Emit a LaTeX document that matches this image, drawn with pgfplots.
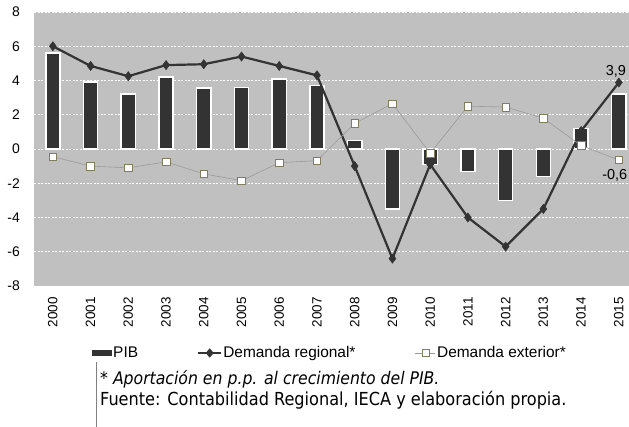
\documentclass[border=0pt]{standalone}
\usepackage{fontspec}
\setmainfont{Liberation Sans}
\newfontfamily\notefont{DejaVu Sans Condensed}
\usepackage{pgfplots}
\pgfplotsset{compat=1.18}
\definecolor{bardark}{HTML}{333333}
\definecolor{bgc}{HTML}{C0C0C0}
\definecolor{extline}{HTML}{9A9A9A}
\definecolor{extmark}{HTML}{7F7F5F}
\begin{document}
\begin{tikzpicture}[x=1bp,y=1bp]
\path[use as bounding box] (0bp,0bp) rectangle (629bp,427bp);
\begin{axis}[
  at={(34bp,141bp)}, anchor=south west,
  scale only axis, width=595bp, height=274bp,
  xmin=-0.5, xmax=15.27, ymin=-8, ymax=8,
  axis background/.style={fill=bgc},
  axis line style={draw=none},
  ytick={-8,-6,-4,-2,0,2,4,6,8},
  xtick={0,1,2,3,4,5,6,7,8,9,10,11,12,13,14,15},
  xticklabels={2000,2001,2002,2003,2004,2005,2006,2007,2008,2009,2010,2011,2012,2013,2014,2015},
  major tick length=0pt,
  /pgf/number format/assume math mode=true,
  ymajorgrids,
  grid style={white, line width=0.7bp, dash pattern=on 2bp off 1.5bp},
  yticklabel style={font=\fontsize{14}{14}\selectfont, inner sep=0pt, anchor=east, xshift=-14bp},
  xticklabel style={font=\fontsize{13.5}{13.5}\selectfont, rotate=90, anchor=east, inner sep=0pt, xshift=-11bp},
  legend columns=3,
  legend style={at={(axis description cs:0.0975,-0.2445)}, anchor=west, draw=none, fill=none, inner sep=0pt,
    font=\fontsize{15.5}{15.5}\selectfont,
    nodes={inner sep=1.5bp},
    /tikz/every even column/.append style={column sep=58bp}},
  clip=false,
]
\addplot[ybar, bar width=14.2bp, fill=bardark, draw=white, line width=1.5bp,
  legend image code/.code={\fill[bardark] (0bp,-2.5bp) rectangle (18bp,2.5bp);}]
  coordinates {(0,5.6) (1,3.9) (2,3.2) (3,4.2) (4,3.55) (5,3.6) (6,4.1) (7,3.7)
               (8,0.5) (9,-3.5) (10,-0.9) (11,-1.3) (12,-3.0) (13,-1.6) (14,1.2) (15,3.2)};
\addlegendentry{PIB}
\addplot[color=bardark, line width=2.2bp, mark=diamond*, mark size=4.6bp,
  mark options={fill=bardark, draw=bardark, line width=0.5bp},
  legend image code/.code={\draw[bardark, line width=1.2bp] (0bp,0bp) -- (23bp,0bp);
     \fill[bardark] (11.5bp,3bp) -- (14bp,0bp) -- (11.5bp,-3bp) -- (9bp,0bp) -- cycle;}]
  coordinates {(0,6.0) (1,4.85) (2,4.25) (3,4.9) (4,4.95) (5,5.4) (6,4.85) (7,4.3)
               (8,-1.0) (9,-6.4) (10,-0.9) (11,-4.0) (12,-5.7) (13,-3.5) (14,1.05) (15,3.88)};
\addlegendentry{Demanda regional*}
\addplot[color=extline, line width=0.6bp, mark=square*, mark size=3.8bp,
  mark options={fill=white, draw=extmark, line width=0.6bp},
  legend image code/.code={\draw[extline, line width=0.6bp] (0bp,0bp) -- (20bp,0bp);
     \filldraw[fill=white, draw=extmark, line width=0.6bp] (6.5bp,-3.5bp) rectangle (13.5bp,3.5bp);}]
  coordinates {(0,-0.45) (1,-1.0) (2,-1.1) (3,-0.75) (4,-1.45) (5,-1.85) (6,-0.8) (7,-0.68)
               (8,1.5) (9,2.65) (10,-0.25) (11,2.5) (12,2.45) (13,1.8) (14,0.2) (15,-0.64)};
\addlegendentry{Demanda exterior*}
\node[font=\fontsize{14.5}{14.5}\selectfont, anchor=south, inner sep=0pt, xshift=-3bp, yshift=5bp] at (axis cs:15,3.88) {3,9};
\node[font=\fontsize{14.5}{14.5}\selectfont, anchor=north, inner sep=0pt, xshift=-4bp, yshift=-9bp] at (axis cs:15,-0.64) {-0,6};
\end{axis}
\draw[gray, line width=0.7bp] (96bp,0bp) -- (96bp,65bp);
\node[anchor=base west, inner sep=0pt, font=\notefont\fontsize{17.5}{17.5}\selectfont\itshape] at (100bp,42bp) {* Aportación en p.p. al crecimiento del PIB.};
\node[anchor=base west, inner sep=0pt, font=\notefont\fontsize{18}{18}\selectfont] at (100bp,22bp) {Fuente: Contabilidad Regional, IECA y elaboración propia.};
\end{tikzpicture}
\end{document}
